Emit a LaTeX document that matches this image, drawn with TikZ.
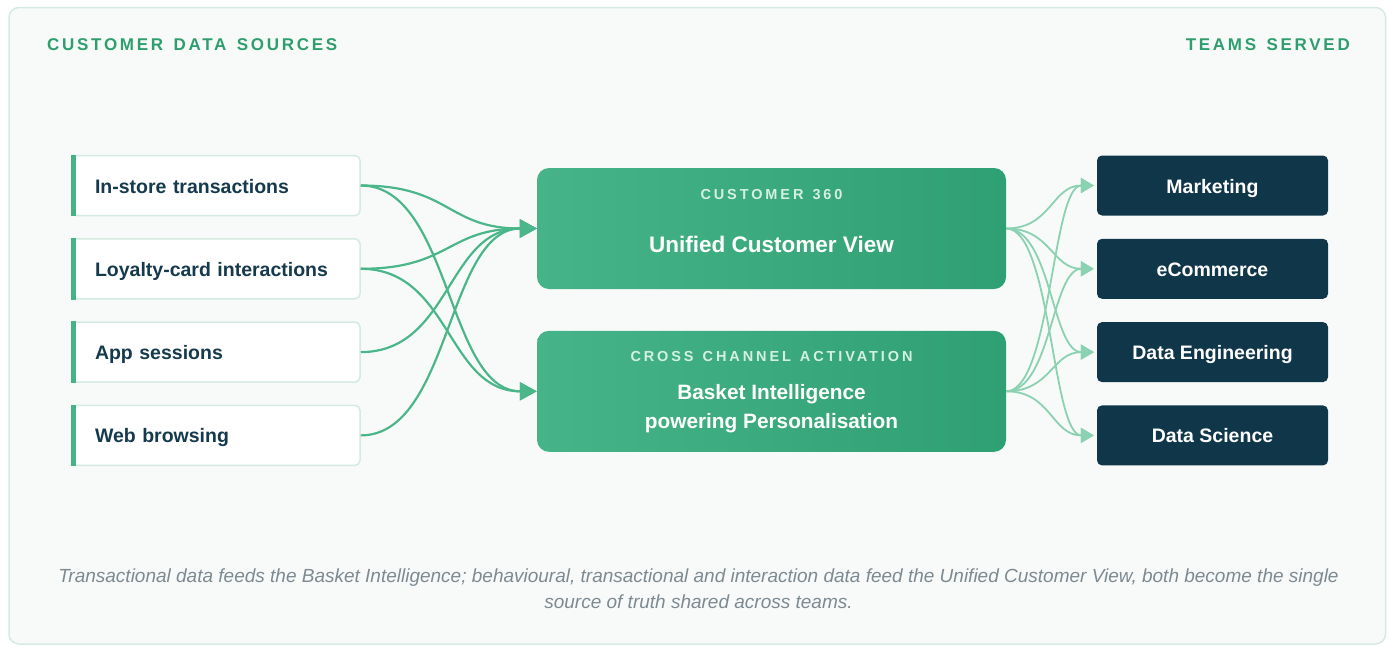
\documentclass[tikz,border=0pt]{standalone}
\usepackage{fontspec}
\setmainfont{Liberation Sans}
\newfontfamily\capsfont[LetterSpace=16,WordSpace=1.4]{Liberation Sans}
\newfontfamily\kickfont[LetterSpace=20,WordSpace=1.3]{Liberation Sans}
\usetikzlibrary{positioning,arrows.meta}
\definecolor{framec}{HTML}{D4EBE0}
\definecolor{bgc}{HTML}{F8FAF9}
\definecolor{ink}{HTML}{163A4D}
\definecolor{teamc}{HTML}{10364A}
\definecolor{headc}{HTML}{2E9E6F}
\definecolor{accent}{HTML}{45B386}
\definecolor{flowc}{HTML}{4BB68A}
\definecolor{softc}{HTML}{8AD2B1}
\definecolor{hubl}{HTML}{46B488}
\definecolor{hubr}{HTML}{2F9F74}
\definecolor{kickc}{HTML}{D5EFE3}
\definecolor{notec}{HTML}{7D8A91}

\begin{document}
\begin{tikzpicture}[x=1pt, y=-1pt,
	srcstyle/.style={rectangle, rounded corners=5pt, draw=framec, line width=1.5pt,
	fill=white, minimum width=288pt, minimum height=60pt, inner xsep=0pt,
	text width=242pt, align=left, text height=15pt, text depth=0pt, text=ink,
	font=\fontsize{19.5}{23}\selectfont\bfseries},
	teamstyle/.style={rectangle, rounded corners=5pt, fill=teamc, minimum width=231pt,
	minimum height=60pt, text height=15pt, text depth=0pt, text=white,
	font=\fontsize{19.5}{23}\selectfont\bfseries},
	hubstyle/.style={rectangle, rounded corners=12pt, left color=hubl, right color=hubr,
	minimum width=469pt, minimum height=121pt},
	headstyle/.style={inner sep=0pt, text=headc, font=\capsfont\fontsize{17}{20}\selectfont\bfseries},
	kickstyle/.style={inner sep=0pt, anchor=base, text=kickc, font=\kickfont\fontsize{14.5}{17}\selectfont\bfseries},
	titlestyle/.style={inner sep=0pt, anchor=base, text=white, align=center},
	flow/.style={flowc, line width=2.2pt, -{Triangle[length=17pt,width=18pt]}},
	soft/.style={softc, line width=1.8pt, shorten >=3pt, -{Triangle[length=13pt,width=15pt]}},
	node distance=22.9pt
	]
	\useasboundingbox (0,0) rectangle (1391,646);
	\draw[framec, line width=1.5pt, fill=bgc, rounded corners=10pt] (9,7.5) rectangle (1385.5,644);
	
	\node[headstyle, anchor=base west] (hl) at (47,50) {CUSTOMER DATA SOURCES};
	\node[headstyle, anchor=base east] (hr) at (1350,50) {TEAMS SERVED};
	
	% sources
	\node[srcstyle] (s1) at (216,185.5) {In-store transactions};
	\node[srcstyle] (s2) [below=21.8pt of s1] {Loyalty-card interactions};
	\node[srcstyle] (s3) [below=21.8pt of s2] {App sessions};
	\node[srcstyle] (s4) [below=21.8pt of s3] {Web browsing};
	\fill[accent] (s1.north west) rectangle ([xshift=5pt]s1.south west);
	\fill[accent] (s2.north west) rectangle ([xshift=5pt]s2.south west);
	\fill[accent] (s3.north west) rectangle ([xshift=5pt]s3.south west);
	\fill[accent] (s4.north west) rectangle ([xshift=5pt]s4.south west);
	
	% hubs
	\node[hubstyle] (h1) at (771.5,228.5) {};
	\node[hubstyle] (h2) at (771.5,391.3) {};
	\node[kickstyle] (k1) at (771.5,199) {CUSTOMER 360};
	\node[titlestyle, font=\fontsize{22.5}{26}\selectfont\bfseries] (u1) at (771.5,252) {Unified Customer View};
	\node[kickstyle] (k2) at (771.5,361.5) {CROSS CHANNEL ACTIVATION};
	\node[titlestyle, font=\fontsize{20.8}{24}\selectfont\bfseries] (u2) at (771.5,399) {Basket Intelligence};
	\node[titlestyle, font=\fontsize{20.8}{24}\selectfont\bfseries] (u3) at (771.5,428.7) {powering Personalisation};
	
	% teams
	\node[teamstyle] (t1) at (1212.5,185.5) {Marketing};
	\node[teamstyle] (t2) [below=of t1] {eCommerce};
	\node[teamstyle] (t3) [below=of t2] {Data Engineering};
	\node[teamstyle] (t4) [below=of t3] {Data Science};
	
	\draw[flow] (s1.east) .. controls +(90,0) and +(-90,0) .. (h1.west);
	\draw[flow] (s1.east) .. controls +(90,0) and +(-90,0) .. (h2.west);
	\draw[flow] (s2.east) .. controls +(90,0) and +(-90,0) .. (h1.west);
	\draw[flow] (s2.east) .. controls +(90,0) and +(-90,0) .. (h2.west);
	\draw[flow] (s3.east) .. controls +(90,0) and +(-90,0) .. (h1.west);
	\draw[flow] (s4.east) .. controls +(90,0) and +(-90,0) .. (h1.west);
	
	\draw[soft] (h1.east) .. controls +(45,0) and +(-45,0) .. (t1.west);
	\draw[soft] (h1.east) .. controls +(45,0) and +(-45,0) .. (t2.west);
	\draw[soft] (h1.east) .. controls +(45,0) and +(-45,0) .. (t3.west);
	\draw[soft] (h1.east) .. controls +(45,0) and +(-45,0) .. (t4.west);
	\draw[soft] (h2.east) .. controls +(45,0) and +(-45,0) .. (t1.west);
	\draw[soft] (h2.east) .. controls +(45,0) and +(-45,0) .. (t2.west);
	\draw[soft] (h2.east) .. controls +(45,0) and +(-45,0) .. (t3.west);
	\draw[soft] (h2.east) .. controls +(45,0) and +(-45,0) .. (t4.west);
	
	\node[align=center, text=notec, font=\fontsize{19}{26}\selectfont\itshape] (note) at (698.5,589)
	{Transactional data feeds the Basket Intelligence; behavioural, transactional and interaction data feed the Unified Customer View, both become the single\\
	source of truth shared across teams.};
\end{tikzpicture}
\end{document}
